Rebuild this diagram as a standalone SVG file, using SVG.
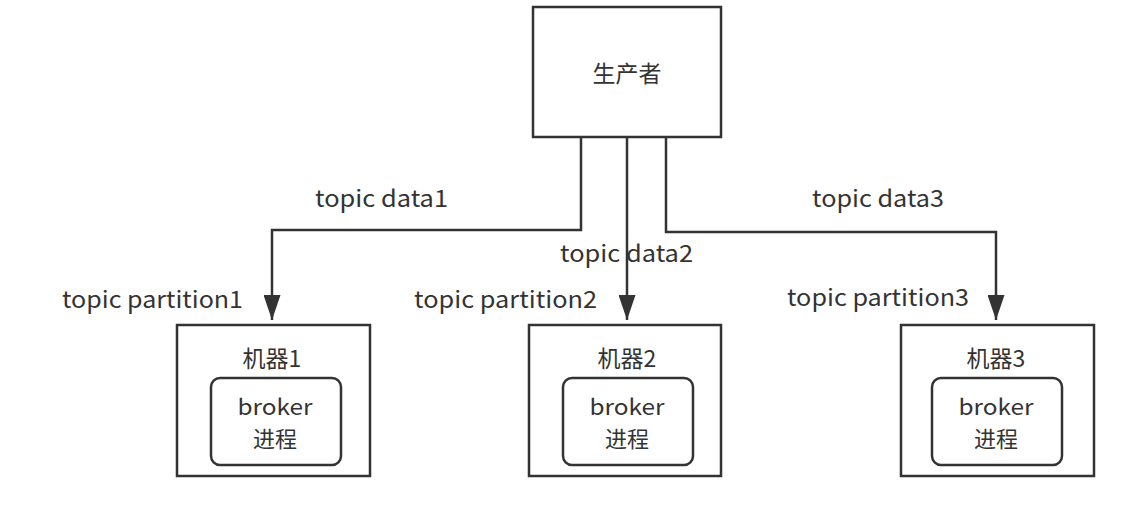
<svg xmlns="http://www.w3.org/2000/svg" width="1122" height="524" viewBox="0 0 1122 524">
<defs>
<marker id="arr" markerWidth="25" markerHeight="17" refX="25" refY="8.5" orient="auto" markerUnits="userSpaceOnUse" viewBox="0 0 25 17">
<path d="M0,0 L25,8.5 L0,17 Z" fill="#333"/>
</marker>
</defs>
<style>
.box{fill:#fff;stroke:#333;stroke-width:2.5}
.inner{fill:#fff;stroke:#333;stroke-width:2.5}
.t{font-family:"Noto Sans CJK SC","Noto Sans",sans-serif;font-size:23px;fill:#333;text-anchor:middle}
.s{font-family:"Noto Sans CJK SC","Noto Sans",sans-serif;font-size:22px;fill:#333;text-anchor:middle}
.l{font-family:"Noto Sans CJK SC","Noto Sans",sans-serif;font-size:23px;fill:#333}
.c{fill:none;stroke:#333;stroke-width:2.5}
</style>
<rect width="1122" height="524" fill="#fff"/>
<g id="producer">
<rect class="box" x="533" y="7" width="188" height="130"/>
<text class="t" x="627" y="82">生产者</text>
</g>
<g id="m1">
<rect class="box" x="177" y="325" width="193" height="151"/>
<text class="t" x="272" y="367">机器1</text>
<rect class="inner" x="211" y="378" width="130" height="87" rx="9"/>
<text class="s" x="275" y="415" textLength="75" lengthAdjust="spacingAndGlyphs">broker</text>
<text class="s" x="275" y="447">进程</text>
</g>
<g id="m2">
<rect class="box" x="529" y="325" width="192" height="151"/>
<text class="t" x="627" y="367">机器2</text>
<rect class="inner" x="563" y="378" width="130" height="87" rx="9"/>
<text class="s" x="627" y="415" textLength="75" lengthAdjust="spacingAndGlyphs">broker</text>
<text class="s" x="627" y="447">进程</text>
</g>
<g id="m3">
<rect class="box" x="901" y="325" width="193" height="151"/>
<text class="t" x="996" y="367">机器3</text>
<rect class="inner" x="932" y="378" width="130" height="87" rx="9"/>
<text class="s" x="996" y="415" textLength="75" lengthAdjust="spacingAndGlyphs">broker</text>
<text class="s" x="996" y="447">进程</text>
</g>
<g id="connectors">
<path class="c" d="M581,137 V230 H272 V320" marker-end="url(#arr)"/>
<path class="c" d="M627,137 V320" marker-end="url(#arr)"/>
<path class="c" d="M666,137 V232 H996 V320" marker-end="url(#arr)"/>
</g>
<g id="labels">
<text class="l" x="315" y="207" textLength="133" lengthAdjust="spacingAndGlyphs">topic data1</text>
<text class="l" x="560" y="262" textLength="133" lengthAdjust="spacingAndGlyphs">topic data2</text>
<text class="l" x="812" y="207" textLength="132" lengthAdjust="spacingAndGlyphs">topic data3</text>
<text class="l" x="62" y="308" textLength="181" lengthAdjust="spacingAndGlyphs">topic partition1</text>
<text class="l" x="414" y="308" textLength="183" lengthAdjust="spacingAndGlyphs">topic partition2</text>
<text class="l" x="787" y="306" textLength="182" lengthAdjust="spacingAndGlyphs">topic partition3</text>
</g>
</svg>
